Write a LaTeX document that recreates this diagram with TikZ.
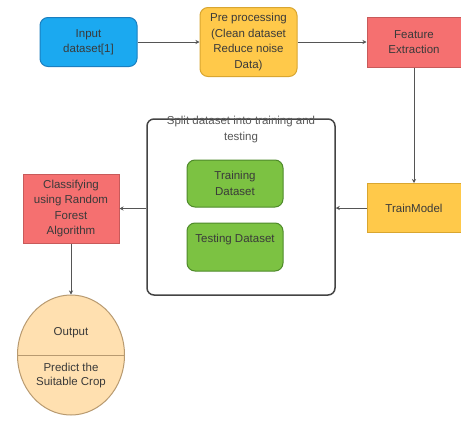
\documentclass[tikz,border=0pt]{standalone}
\usepackage{fontspec}
\setmainfont{Liberation Sans}
\usetikzlibrary{arrows.meta,shapes.geometric}
\definecolor{bluefill}{HTML}{1BA9F0}
\definecolor{blueline}{HTML}{1A7FC0}
\definecolor{yelfill}{HTML}{FFC94A}
\definecolor{yelline}{HTML}{D9A630}
\definecolor{redfill}{HTML}{F57070}
\definecolor{redline}{HTML}{C85A5A}
\definecolor{grnfill}{HTML}{7CC242}
\definecolor{grnline}{HTML}{4E8A2A}
\definecolor{outfill}{HTML}{FFE0B0}
\definecolor{outline}{HTML}{B89A70}
\definecolor{txt}{HTML}{3A3A3A}
\definecolor{conn}{HTML}{555555}
\tikzset{
  lbl/.style={font=\fontsize{11.5}{15.5}\selectfont, text=txt, align=center, inner sep=0pt},
  box/.style={draw, line width=1pt, lbl},
  rbox/.style={box, rounded corners=8pt},
  conn/.style={draw=conn, line width=0.9pt, -{Stealth[length=4pt,width=4pt]}},
}
\begin{document}
\begin{tikzpicture}[x=1pt,y=-1pt]
\useasboundingbox (0,0) rectangle (461,421);
\fill[white] (0,0) rectangle (461,421);
% top row
\node[rbox, fill=bluefill, draw=blueline, minimum width=97pt, minimum height=49pt] (inp) at (88.5,42) {Input\\dataset[1]};
\node[rbox, fill=yelfill, draw=yelline, minimum width=97pt, minimum height=69pt] (pre) at (248.5,42) {Pre processing\\(Clean dataset\\Reduce noise\\Data)};
\node[box, fill=redfill, draw=redline, minimum width=94pt, minimum height=50pt] (feat) at (414,42) {Feature\\Extraction};
% train model
\node[box, fill=yelfill, draw=yelline, minimum width=94pt, minimum height=49pt] (train) at (414,208) {TrainModel};
% container
\node[draw=conn!80!black, line width=1.5pt, rounded corners=7pt, minimum width=188pt, minimum height=176pt, inner sep=0pt] (split) at (241,207) {};
\node[lbl, text=txt!85, anchor=north] (title) at (241,116) {Split dataset into training and\\testing};
\node[rbox, fill=grnfill, draw=grnline, minimum width=96pt, minimum height=47pt] (trd) at (235,183.5) {Training\\Dataset};
\node[rbox, fill=grnfill, draw=grnline, minimum width=96pt, minimum height=48pt] (ted) at (235,247) {};
\node[lbl] (tedt) at (235,240) {Testing Dataset};
% classifier
\node[box, fill=redfill, draw=redline, minimum width=96pt, minimum height=69pt] (cls) at (71,208.5) {Classifying\\using Random\\Forest\\Algorithm};
% output ellipse
\node[ellipse, draw=outline, fill=outfill, line width=1pt, minimum width=107pt, minimum height=120pt, inner sep=0pt] (out) at (71,355) {};
\draw[outline, line width=0.8pt] (out.west) -- (out.east);
\node[lbl] (outt) at (71,333) {Output};
\node[lbl, font=\fontsize{11.5}{14}\selectfont] (outp) at (71,376) {Predict the\\Suitable Crop};
% connectors
\draw[conn] (inp) -- (pre);
\draw[conn] (pre.east |- feat.west) -- (feat.west);
\draw[conn] (feat.south) -- (train.north);
\draw[conn] (train.west) -- (split.east |- train.west);
\draw[conn] (split.west |- cls.east) -- (cls.east);
\draw[conn] (cls.south) -- (out.north);
\end{tikzpicture}
\end{document}
